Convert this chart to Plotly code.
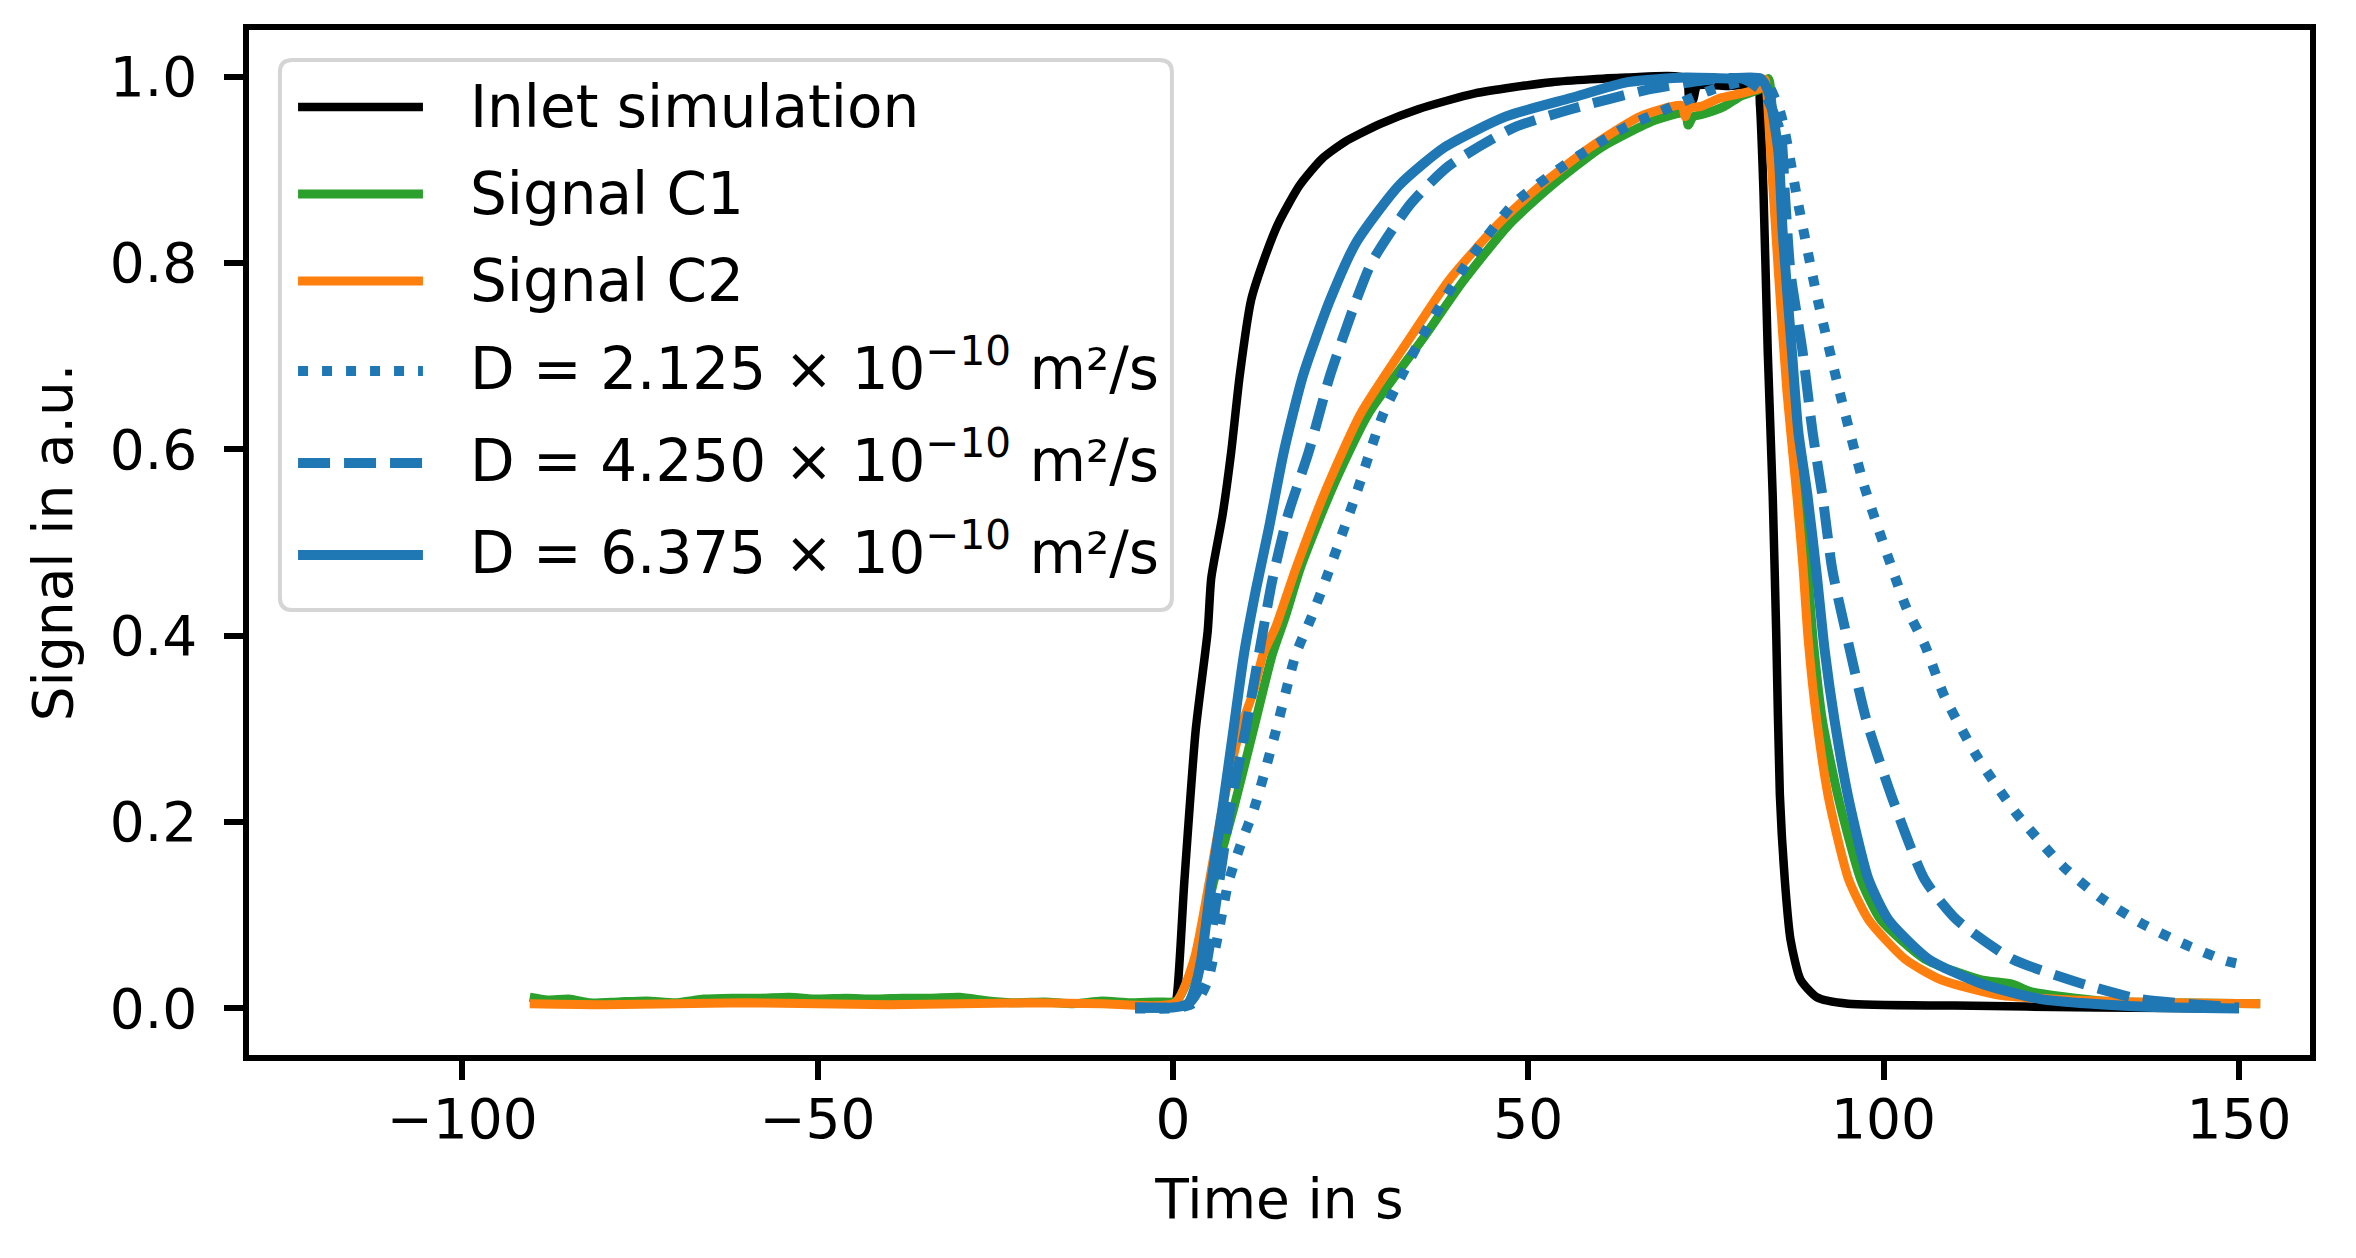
import plotly.graph_objects as go

# tick labels
x_ticks = [-100, -50, 0, 50, 100, 150]
x_tick_text = ["\u2212100", "\u221250", "0", "50", "100", "150"]
y_ticks = [0.0, 0.2, 0.4, 0.6, 0.8, 1.0]
y_tick_text = ["0.0", "0.2", "0.4", "0.6", "0.8", "1.0"]

series_names = [
    "Inlet simulation",
    "Signal C1",
    "Signal C2",
    "D = 2.125 \u00d7 10<sup>\u221210</sup> m\u00b2/s",
    "D = 4.250 \u00d7 10<sup>\u221210</sup> m\u00b2/s",
    "D = 6.375 \u00d7 10<sup>\u221210</sup> m\u00b2/s",
]

# Inlet simulation
inlet_t = [0.0, 0.5, 1.6, 3.2, 4.9, 5.4, 7.0, 8.2, 9.4, 11.0, 12.7, 14.8, 17.8, 21.0, 24.2,
           29.1, 34.5, 42.5, 53.3, 64.0, 72.2, 72.7, 73.2, 73.8, 78.0, 82.3, 82.6, 83.1, 83.7,
           84.4, 84.9, 85.4, 86.1, 86.9, 88.3, 90.6, 95.0, 110.0, 130.0, 150.0]
inlet_s = [0.0, 0.01, 0.135, 0.298, 0.405, 0.462, 0.53, 0.597, 0.679, 0.76, 0.801, 0.842,
           0.883, 0.912, 0.93, 0.949, 0.965, 0.982, 0.994, 0.999, 0.998, 0.971, 0.975, 0.99,
           0.99, 0.99, 0.97, 0.876, 0.705, 0.55, 0.40, 0.23, 0.138, 0.074, 0.031, 0.012,
           0.005, 0.003, 0.001, 0.0]

# Signal C1
c1_t = [-90.5, -88, -85, -82, -78, -74, -70, -66, -62, -58, -54, -50, -46, -42, -38, -34,
        -30, -26, -22, -18, -14, -10, -6, -2, 0.5, 3.2, 5.7, 8.6, 11.3, 14.0, 15.8, 18.0,
        22.3, 27.5, 35.3, 40.9, 47.4, 53.3, 60.3, 67.8, 72.1, 72.5, 73.2, 74.3, 77.6, 79.9,
        82.7, 83.8, 84.6, 85.6, 86.8, 88.2, 89.2, 90.1, 91.4, 93.7, 96.8, 99.6, 105.8,
        113.6, 118.1, 120.7, 130.5, 140.0, 153.0]
c1_s = [0.012, 0.009, 0.010, 0.006, 0.007, 0.008, 0.006, 0.010, 0.011, 0.011, 0.012, 0.010,
        0.011, 0.010, 0.011, 0.011, 0.012, 0.008, 0.006, 0.007, 0.005, 0.008, 0.006, 0.007,
        0.008, 0.053, 0.135, 0.216, 0.298, 0.38, 0.42, 0.474, 0.556, 0.638, 0.72, 0.781,
        0.842, 0.883, 0.924, 0.953, 0.961, 0.948, 0.957, 0.959, 0.968, 0.979, 0.987, 0.998,
        0.93, 0.80, 0.67, 0.55, 0.48, 0.395, 0.309, 0.224, 0.138, 0.095, 0.053, 0.031,
        0.026, 0.018, 0.008, 0.006, 0.005]

# Signal C2
c2_t = [-90.5, -80, -70, -60, -50, -40, -30, -20, -10, 0.3, 3.0, 5.1, 7.0, 9.4, 11.3, 12.7,
        14.5, 17.2, 21.5, 26.4, 33.4, 38.8, 45.8, 51.7, 58.7, 65.7, 71.6, 72.1, 72.6, 74.3,
        77.0, 80.0, 82.7, 83.3, 84.1, 85.2, 86.4, 87.8, 88.6, 89.4, 90.6, 92.3, 95.1, 97.9,
        103.0, 108.0, 116.4, 130.5, 140.0, 153.0]
c2_s = [0.005, 0.004, 0.005, 0.006, 0.005, 0.004, 0.005, 0.006, 0.005, 0.006, 0.053, 0.135,
        0.216, 0.298, 0.339, 0.38, 0.41, 0.47, 0.556, 0.638, 0.72, 0.781, 0.842, 0.883, 0.924,
        0.957, 0.969, 0.957, 0.966, 0.968, 0.977, 0.982, 0.988, 0.997, 0.919, 0.79, 0.662,
        0.55, 0.48, 0.395, 0.309, 0.224, 0.138, 0.095, 0.053, 0.031, 0.014, 0.008, 0.006,
        0.005]

# simulations, D = 2.125e-10
d1_t = [-5.3, 0.0, 2.5, 4.0, 5.0, 6.2, 7.8, 9.5, 11.5, 14.5, 17.3, 19.5, 21.5, 25.7, 29.6,
        35.0, 41.5, 47.9, 54.9, 63.5, 69.4, 75.9, 82.5, 83.5, 85.5, 88.0, 90.6, 93.7, 97.3,
        101.2, 103.2, 105.8, 108.5, 113.1, 118.7, 125.3, 130.5, 136.1, 142.0, 148.2, 150.5]
d1_s = [0.0, 0.0, 0.004, 0.015, 0.032, 0.073, 0.135, 0.175, 0.216, 0.298, 0.38, 0.42, 0.46,
        0.55, 0.638, 0.72, 0.801, 0.863, 0.904, 0.945, 0.965, 0.986, 0.998, 0.995, 0.961,
        0.863, 0.765, 0.665, 0.56, 0.472, 0.43, 0.39, 0.336, 0.271, 0.209, 0.152, 0.119,
        0.092, 0.070, 0.051, 0.047]

# D = 4.250e-10
d2_t = [-5.3, 0.0, 2.0, 3.0, 4.3, 6.5, 8.1, 10.2, 12.1, 14.0, 16.2, 19.1, 22.1, 25.8, 28.0,
        33.4, 38.8, 47.9, 56.0, 66.8, 74.8, 80.0, 83.1, 85.5, 86.1, 86.9, 88.6, 90.0, 91.4,
        92.8, 95.1, 97.6, 101.3, 105.8, 110.3, 118.1, 127.7, 136.1, 150.0]
d2_s = [0.001, 0.001, 0.004, 0.012, 0.032, 0.135, 0.216, 0.298, 0.38, 0.46, 0.53, 0.597,
        0.679, 0.76, 0.801, 0.863, 0.904, 0.945, 0.965, 0.986, 0.996, 0.998, 0.983, 0.94,
        0.876, 0.79, 0.705, 0.619, 0.55, 0.47, 0.39, 0.309, 0.224, 0.138, 0.095, 0.053,
        0.027, 0.010, 0.001]

# D = 6.375e-10
d3_t = [-5.3, 0.0, 1.5, 2.2, 3.0, 4.0, 5.4, 7.0, 8.5, 10.0, 11.7, 13.5, 15.6, 18.3, 22.1,
        25.8, 31.8, 38.2, 46.8, 56.0, 64.0, 72.1, 78.0, 82.7, 83.8, 85.2, 85.8, 87.1, 88.0,
        89.3, 90.6, 91.7, 93.1, 95.1, 97.9, 100.7, 106.3, 113.6, 122.1, 136.0, 150.0]
d3_s = [0.001, 0.001, 0.003, 0.006, 0.02, 0.053, 0.135, 0.216, 0.298, 0.38, 0.45, 0.515,
        0.597, 0.679, 0.76, 0.822, 0.883, 0.924, 0.957, 0.977, 0.994, 0.999, 0.998, 0.998,
        0.983, 0.919, 0.833, 0.705, 0.619, 0.55, 0.465, 0.385, 0.309, 0.224, 0.138, 0.095,
        0.053, 0.027, 0.010, 0.002, 0.0]

blue = "#1f77b4"
font = "DejaVu Sans"
styles = [
    dict(color="black", width=8.5),
    dict(color="#2ca02c", width=9),
    dict(color="#ff7f0e", width=9),
    dict(color=blue, width=10, dash="10px,14px"),
    dict(color=blue, width=10, dash="32px,14px"),
    dict(color=blue, width=10),
]
data = [(inlet_t, inlet_s), (c1_t, c1_s), (c2_t, c2_s), (d1_t, d1_s), (d2_t, d2_s), (d3_t, d3_s)]

fig = go.Figure()
for (t, s), name, st in zip(data, series_names, styles):
    fig.add_trace(go.Scatter(x=t, y=s, mode="lines", name=name, showlegend=False,
                             line=dict(shape="spline", smoothing=0.6, **st)))

axis_common = dict(showgrid=False, zeroline=False, showline=True, linecolor="black",
                   linewidth=5.5, mirror=True, ticks="outside", ticklen=19, tickwidth=5.5,
                   tickcolor="black", tickfont=dict(family=font, size=55, color="black"))

fig.update_xaxes(range=[-130, 160], tickvals=x_ticks, ticktext=x_tick_text,
                 title=dict(text="Time in s", font=dict(family=font, size=55, color="black"),
                            standoff=32),
                 ticklabelstandoff=-8, **axis_common)
fig.update_yaxes(range=[-0.05, 1.05], tickvals=y_ticks, ticktext=y_tick_text,
                 title=dict(text="Signal in a.u.", font=dict(family=font, size=55, color="black"),
                            standoff=22),
                 ticklabelstandoff=16, **axis_common)

# hand-drawn legend (matplotlib look: long line samples, rounded grey frame)
bx0, bx1, by0, by1 = 0.0150, 0.4478, 0.4341, 0.9707
rx, ry = 0.006, 0.012
frame = (f"M{bx0 + rx},{by1} L{bx1 - rx},{by1} Q{bx1},{by1} {bx1},{by1 - ry} "
         f"L{bx1},{by0 + ry} Q{bx1},{by0} {bx1 - rx},{by0} L{bx0 + rx},{by0} "
         f"Q{bx0},{by0} {bx0},{by0 + ry} L{bx0},{by1 - ry} Q{bx0},{by1} {bx0 + rx},{by1} Z")
shapes = [dict(type="path", xref="paper", yref="paper", path=frame, layer="above",
               fillcolor="rgba(255,255,255,0.8)", line=dict(color="#d5d5d5", width=4))]
annotations = []
row_y = [0.9249, 0.8400, 0.7551, 0.6673, 0.5776, 0.4878]
for yy, name, st in zip(row_y, series_names, styles):
    shapes.append(dict(type="line", xref="paper", yref="paper", x0=0.0238, x1=0.0844,
                       y0=yy, y1=yy, layer="above",
                       line=dict(color=st["color"], width=st["width"], dash=st.get("dash", "solid"))))
    shift = 6 if "<sup>" in name else 0
    annotations.append(dict(xref="paper", yref="paper", x=0.1063, y=yy, xanchor="left",
                            yanchor="middle", yshift=shift, showarrow=False, text=name,
                            font=dict(family=font, size=58, color="black")))

# the page body has an 8px margin, so the figure is a bit smaller than the window
fig.update_layout(
    width=2340, height=1242,
    margin=dict(l=241, r=38, t=22, b=195),
    paper_bgcolor="white", plot_bgcolor="white",
    font=dict(family=font, size=55, color="black"),
    shapes=shapes, annotations=annotations,
    showlegend=False,
)

fig.write_html("out.html")
